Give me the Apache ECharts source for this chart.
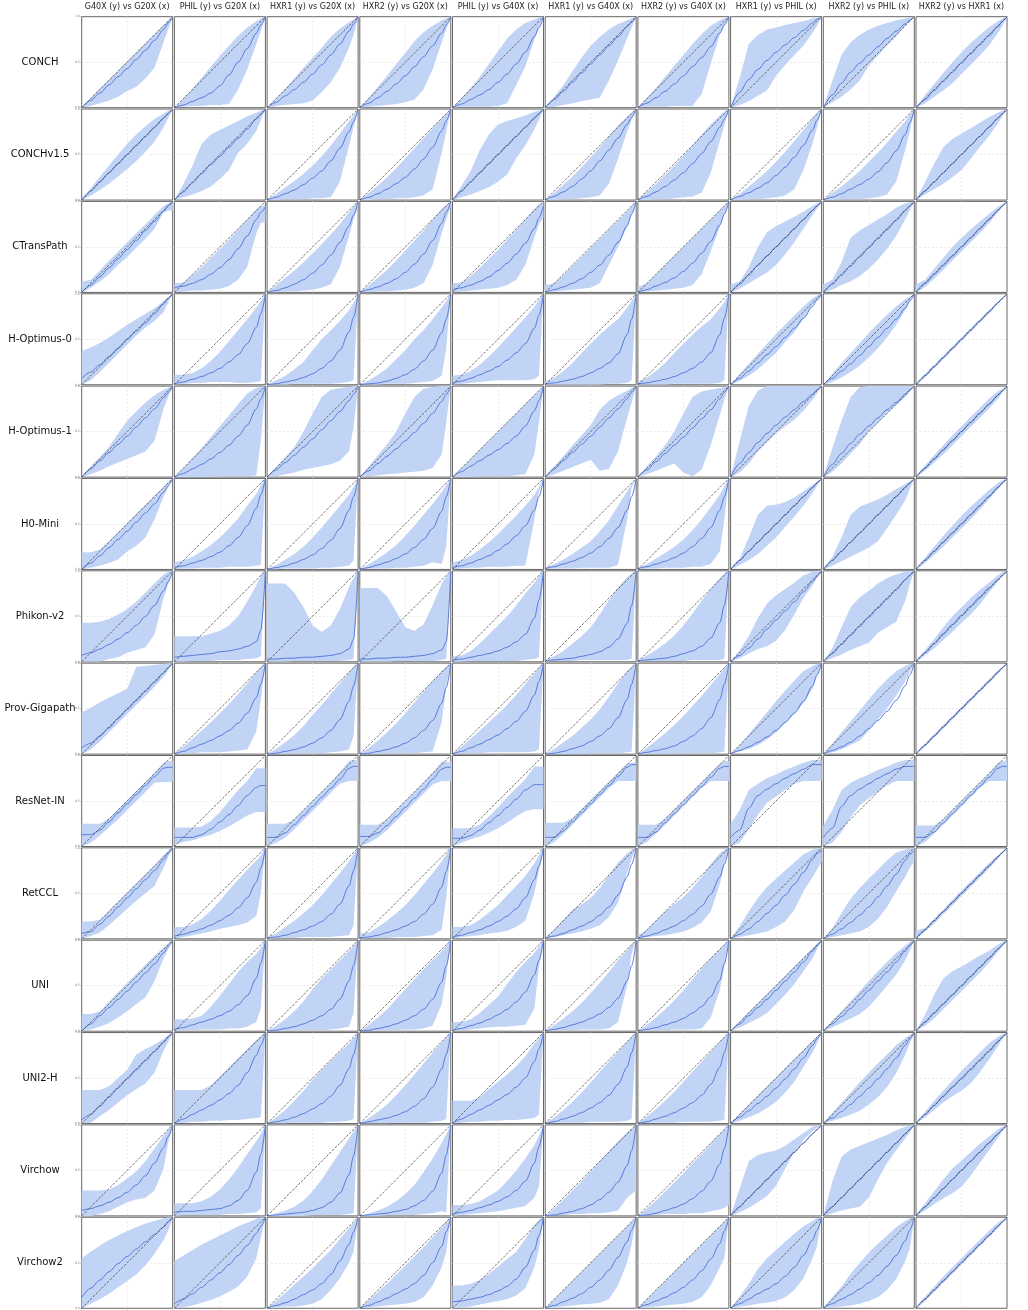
<!DOCTYPE html>
<html><head><meta charset="utf-8">
<script src="https://cdn.jsdelivr.net/npm/echarts@6/dist/echarts.min.js"></script>
<style>html,body{margin:0;padding:0;background:#fff}#c{width:1028px;height:1310px}</style>
</head><body><div id="c"></div>
<script>
const xs = [0,0.1,0.2,0.3,0.4,0.5,0.6,0.7,0.8,0.9,0.95,1];
const colTitles = ['G40X (y) vs G20X (x)','PHIL (y) vs G20X (x)','HXR1 (y) vs G20X (x)','HXR2 (y) vs G20X (x)','PHIL (y) vs G40X (x)','HXR1 (y) vs G40X (x)','HXR2 (y) vs G40X (x)','HXR1 (y) vs PHIL (x)','HXR2 (y) vs PHIL (x)','HXR2 (y) vs HXR1 (x)'];
const rowNames = ['CONCH','CONCHv1.5','CTransPath','H-Optimus-0','H-Optimus-1','H0-Mini','Phikon-v2','Prov-Gigapath','ResNet-IN','RetCCL','UNI','UNI2-H','Virchow','Virchow2'];
const yTicks = ['0.0','0.5','1.0'];

// values in percent at xs, one row per panel (10 columns)
const CONCH_med = [[0,8,16,25,34,43,53,63,74,86,93,100],[0,3,7,11,16,24,36,50,65,82,91,100],[0,6,13,20,28,37,47,58,70,84,92,100],[0,5,11,18,26,35,45,56,68,82,91,100],[0,4,9,14,20,28,37,48,61,78,88,100],[0,9,18,28,38,48,58,68,78,89,94,100],[0,5,11,18,26,35,45,55,67,82,91,100],[0,17,31,42,52,61,69,77,85,93,97,100],[0,14,27,39,49,58,67,76,84,92,96,100],[0,9,19,29,39,49,59,69,79,89,95,100]];
const CONCH_lo = [[0,2,5,8,12,18,23,32,44,72,86,100],[0,1,2,2,3,3,4,20,42,70,84,100],[0,2,3,4,5,8,17,28,44,66,80,100],[0,1,2,3,4,6,9,20,42,72,86,100],[0,1,1,1,1,2,5,25,45,75,88,100],[0,1,3,5,7,9,11,30,52,76,88,100],[0,1,1,1,2,2,2,15,48,80,90,100],[0,3,7,13,19,35,47,58,68,82,90,100],[0,6,12,20,30,46,57,68,78,90,95,100],[0,5,12,19,27,37,47,57,68,82,90,100]];
const CONCH_hi = [[0,11,21,31,41,51,61,71,81,91,96,100],[0,10,21,33,45,57,68,79,88,95,98,100],[0,10,21,32,44,55,66,78,87,94,97,100],[0,11,23,35,48,60,73,83,90,96,98,100],[0,11,22,34,48,62,76,86,93,97,99,100],[0,12,25,40,55,68,78,86,92,96,98,100],[0,11,22,34,46,58,70,81,90,96,98,100],[0,33,70,80,86,88,91,93,95,98,99,100],[0,30,58,72,80,86,90,93,96,98,99,100],[0,14,26,38,50,61,71,80,88,95,98,100]];

const CONCHv15_med = [[0,10,20,30,40,50,60,70,80,90,95,100],[0,9,19,29,39,48,58,68,78,89,94,100],[0,3,7,11,17,24,32,43,57,75,86,100],[0,3,7,12,18,25,34,45,58,76,87,100],[0,10,20,30,40,50,60,70,80,90,95,100],[0,4,9,15,23,32,43,55,68,83,91,100],[0,4,9,15,22,30,40,51,64,80,89,100],[0,4,8,13,19,27,36,47,60,77,88,100],[0,3,7,12,17,23,31,41,54,72,85,100],[0,10,20,30,40,50,60,70,80,90,95,100]];
const CONCHv15_lo = [[0,5,11,18,26,34,43,53,64,80,90,100],[0,3,6,10,15,23,33,52,62,76,88,100],[0,0,1,1,1,2,2,3,20,60,80,100],[0,0,1,1,2,2,3,5,12,52,75,100],[0,3,6,10,14,20,28,46,60,78,88,100],[0,0,1,1,2,3,5,18,45,75,88,100],[0,0,1,1,2,3,4,8,30,65,82,100],[0,0,1,1,2,3,5,12,33,62,80,100],[0,0,1,1,1,2,3,6,20,55,75,100],[0,6,12,18,25,33,45,58,70,84,92,100]];
const CONCHv15_hi = [[0,13,26,38,50,62,72,81,89,95,98,100],[0,18,38,62,72,77,82,87,92,96,98,100],[0,7,14,21,29,38,48,60,73,87,93,100],[0,8,16,25,35,46,57,68,79,90,95,100],[0,16,32,55,72,83,87,90,93,97,98,100],[0,8,17,26,36,47,58,70,82,92,96,100],[0,9,18,28,38,49,60,72,83,93,97,100],[0,7,15,23,32,42,53,65,77,90,95,100],[0,8,15,23,32,42,52,63,75,87,94,100],[0,20,40,58,67,73,79,85,91,96,98,100]];

const CTransPath_med = [[0,8,17,27,37,47,57,68,78,89,95,100],[5,7,10,14,20,27,36,48,62,80,88,94],[0,2,5,9,14,21,30,41,55,73,85,100],[0,3,6,10,15,22,31,42,57,76,88,100],[3,5,8,12,17,24,32,42,54,70,82,95],[0,3,6,10,15,22,30,41,55,73,86,100],[0,3,7,11,16,23,32,43,56,74,86,100],[0,9,19,30,40,50,60,70,80,90,95,100],[0,9,19,29,39,49,59,69,79,90,95,100],[0,10,20,30,40,50,60,70,80,90,95,100]];
const CTransPath_lo = [[0,5,12,20,30,39,49,59,70,88,90,90],[0,1,2,2,3,4,7,14,28,65,76,78],[0,0,1,1,2,3,5,9,28,62,80,95],[0,0,1,1,2,3,5,10,30,65,80,95],[0,1,2,3,4,5,8,14,30,60,75,82],[0,1,2,3,4,5,10,30,50,72,85,100],[0,1,2,3,4,5,8,20,45,72,85,100],[0,4,10,16,22,30,42,55,70,85,92,100],[0,3,8,12,18,26,36,48,62,80,90,100],[0,6,15,25,35,45,55,65,76,88,94,100]];
const CTransPath_hi = [[12,14,24,35,45,55,65,75,85,95,98,100],[10,11,19,28,38,48,58,69,80,91,95,95],[0,8,16,24,33,43,53,64,75,88,94,100],[0,8,16,25,35,46,57,68,80,92,96,100],[10,11,18,27,37,47,58,69,80,92,97,99],[8,10,19,29,39,49,59,69,79,89,95,100],[6,10,20,30,40,50,60,70,80,90,95,100],[9,12,28,50,66,73,78,83,89,95,98,100],[9,14,33,60,68,74,80,86,93,98,99,100],[9,14,26,38,50,60,69,78,86,94,97,100]];

const HOpt0_med = [[7,14,22,31,40,50,59,68,78,89,95,100],[1,3,6,9,13,18,25,33,45,63,78,100],[0,1,3,5,8,12,18,26,38,58,74,100],[0,1,2,4,7,11,17,26,38,57,72,100],[2,4,7,11,15,20,27,35,45,62,76,100],[1,2,4,6,9,13,18,24,34,55,72,100],[1,2,4,6,9,13,18,25,35,55,73,100],[0,7,15,24,33,42,52,62,73,86,93,100],[0,7,15,23,32,42,52,62,72,84,92,100],[0,10,20,30,40,50,60,70,80,90,95,100]];
const HOpt0_lo = [[0,5,14,24,34,44,54,63,70,80,90,100],[0,1,2,2,3,3,3,2,2,3,4,100],[0,0,0,1,1,1,1,1,2,3,5,100],[0,0,0,1,1,1,2,3,4,10,40,100],[0,1,2,3,4,5,5,5,5,6,10,100],[0,0,0,0,0,0,0,1,1,2,5,100],[0,0,0,0,1,1,1,1,1,2,5,100],[0,4,10,17,26,35,47,58,72,87,93,100],[0,3,8,14,21,30,40,52,66,82,91,100],[0,8,18,28,38,48,58,68,78,89,94,100]];
const HOpt0_hi = [[37,41,46,52,59,66,72,78,84,92,96,100],[11,11,13,18,26,36,48,60,72,85,92,100],[0,5,10,17,25,38,50,60,70,82,90,100],[0,5,11,18,28,38,50,60,72,85,92,100],[10,11,15,22,31,41,52,63,74,86,93,100],[3,8,15,24,35,45,55,64,72,85,92,100],[3,8,15,24,35,45,55,64,72,84,91,100],[0,12,23,34,45,56,66,76,86,95,98,100],[0,12,24,35,46,57,67,77,86,94,97,100],[0,12,22,32,42,52,62,72,82,91,96,100]];

const HOpt1_med = [[0,9,18,27,36,45,55,65,75,87,93,100],[0,4,9,14,20,27,35,45,57,75,86,100],[0,8,16,24,33,42,52,62,72,84,91,100],[0,7,15,23,31,40,49,59,70,83,91,100],[0,6,12,18,24,30,37,45,56,73,84,100],[0,9,18,27,36,45,55,65,75,86,93,100],[0,8,17,26,35,44,54,64,74,86,93,100],[0,15,27,38,48,57,66,74,83,91,96,100],[0,14,26,37,47,56,65,74,82,91,96,100],[0,10,20,30,40,50,60,70,80,90,95,100]];
const HOpt1_lo = [[0,3,7,12,16,20,24,28,40,75,88,100],[0,0,0,0,0,1,1,1,1,2,40,100],[0,1,3,5,8,10,12,14,18,28,55,100],[0,1,2,3,4,5,6,7,10,25,60,100],[0,0,0,1,1,1,1,2,3,25,60,100],[0,3,7,11,15,19,7,9,28,65,82,100],[0,3,7,11,15,5,1,8,35,68,85,100],[0,5,15,28,38,48,56,63,73,85,92,100],[0,6,15,26,36,50,60,70,79,88,94,100],[0,7,16,25,35,45,55,65,75,86,93,100]];
const HOpt1_hi = [[0,12,22,33,48,62,72,82,90,96,98,100],[0,10,21,32,44,56,68,80,92,98,99,100],[0,11,22,33,50,70,88,96,98,99,100,100],[0,12,24,36,50,70,88,97,99,100,100,100],[0,10,20,30,40,50,60,70,80,90,95,100],[0,12,23,35,46,57,74,84,90,95,98,100],[0,12,23,35,50,70,88,94,96,98,99,100],[0,40,78,95,100,100,100,100,100,100,100,100],[0,32,62,88,99,100,100,100,100,100,100,100],[0,13,24,35,46,56,66,76,86,94,97,100]];

const H0Mini_med = [[0,7,15,24,33,42,52,62,72,85,92,100],[2,4,7,10,14,19,26,35,48,67,82,100],[0,2,4,7,11,16,23,32,45,65,80,100],[0,2,5,8,12,17,24,33,45,64,80,100],[2,4,7,11,15,21,28,37,48,65,80,100],[1,3,6,9,13,18,25,34,46,65,80,100],[1,3,6,9,13,18,25,34,46,65,80,100],[0,10,20,30,40,50,60,70,80,90,95,100],[0,10,20,30,40,50,60,70,80,90,95,100],[0,10,20,30,40,50,60,70,80,90,95,100]];
const H0Mini_lo = [[0,2,4,7,11,20,26,35,55,80,90,100],[0,1,1,2,2,2,3,3,3,4,5,100],[0,0,1,1,1,1,2,2,3,4,10,100],[0,1,1,1,2,2,3,4,8,6,25,100],[0,1,2,2,3,3,3,4,4,55,85,100],[0,1,1,1,2,2,2,2,5,55,90,100],[0,1,1,2,2,2,3,3,6,20,55,100],[0,5,10,17,26,35,47,58,70,84,92,100],[0,4,9,14,19,24,31,45,60,76,88,100],[0,7,16,25,35,45,55,66,77,88,94,100]];
const H0Mini_hi = [[19,19,22,31,41,51,61,71,81,91,96,100],[8,10,14,20,27,35,45,56,70,83,93,100],[0,5,11,17,25,35,46,58,70,82,91,100],[0,6,12,19,27,37,48,60,72,85,93,100],[8,10,15,22,30,39,49,59,70,82,91,100],[1,6,11,17,24,31,42,54,70,86,94,100],[1,6,12,18,25,33,43,55,68,82,92,100],[0,12,35,60,70,71,74,79,86,93,97,100],[0,14,35,60,69,73,77,82,88,94,97,100],[0,13,25,37,48,59,69,78,87,95,98,100]];

const Phikon_med = [[7,10,14,19,25,32,40,50,62,78,88,100],[5,6,7,8,9,11,12,14,17,22,35,100],[3,3,4,4,5,5,6,7,9,14,25,100],[3,3,4,4,5,5,6,7,9,13,22,100],[2,3,5,7,9,12,16,22,30,48,68,100],[1,2,3,4,6,8,11,16,25,42,62,100],[1,2,3,4,6,9,12,17,26,43,62,100],[0,7,15,25,36,46,56,66,77,88,94,100],[0,9,19,29,39,49,59,69,79,90,95,100],[0,10,20,31,41,51,61,71,81,90,95,100]];
const Phikon_lo = [[0,0,0,3,5,10,13,16,30,70,85,100],[0,0,1,1,1,2,2,2,3,4,6,100],[0,0,0,1,1,1,1,1,1,2,3,100],[0,0,0,0,1,1,1,1,1,2,3,100],[0,0,1,1,1,1,1,1,2,3,5,100],[0,1,1,1,2,2,2,2,2,2,3,100],[0,1,1,1,1,1,2,2,2,2,3,100],[0,4,9,14,17,23,35,52,70,84,92,100],[0,4,8,13,17,21,32,38,44,67,85,100],[0,7,15,24,33,43,52,63,76,88,94,100]];
const Phikon_hi = [[43,43,44,47,52,58,66,76,86,96,99,100],[28,28,28,28,31,34,40,50,66,84,95,100],[86,86,86,76,60,40,33,40,58,82,92,100],[81,81,81,72,55,38,34,41,62,86,94,100],[6,7,12,20,30,40,50,62,75,87,94,100],[2,6,12,20,28,38,52,68,82,93,97,100],[2,7,13,20,29,40,53,67,80,92,97,100],[0,13,28,48,64,73,80,87,95,99,100,100],[0,15,38,60,71,78,86,92,96,99,100,100],[0,13,25,38,50,60,70,79,87,95,98,100]];

const ProvGiga_med = [[7,12,20,29,39,49,59,69,79,89,95,100],[0,3,7,11,15,20,26,34,45,62,77,100],[0,1,3,5,8,12,18,26,38,58,75,100],[0,1,3,5,8,12,18,26,37,56,73,100],[0,3,7,11,16,21,28,36,47,65,80,100],[0,1,3,6,9,14,20,28,40,60,77,100],[0,2,4,6,9,14,20,28,40,60,77,100],[0,4,8,13,19,26,35,45,58,75,87,100],[0,4,8,13,20,28,37,47,59,75,87,100],[0,10,20,30,40,50,60,70,80,90,95,100]];
const ProvGiga_lo = [[0,5,14,24,34,44,54,64,74,85,92,100],[0,1,1,2,2,2,3,4,5,25,60,100],[0,0,0,1,1,1,1,2,3,5,20,100],[0,0,0,1,1,1,1,2,3,35,75,100],[0,1,1,1,2,2,2,2,2,3,5,100],[0,0,0,0,0,1,1,1,1,2,3,100],[0,0,0,0,0,1,1,1,1,2,3,100],[0,3,6,10,16,24,34,44,56,72,86,100],[0,2,5,10,15,26,38,50,64,80,90,100],[0,8,18,28,38,48,58,68,78,88,94,100]];
const ProvGiga_hi = [[46,51,57,62,67,72,96,97,98,99,100,100],[0,8,17,26,35,45,55,66,78,90,96,100],[0,6,13,21,31,43,54,66,78,90,96,100],[0,7,15,24,34,45,57,69,80,91,96,100],[0,8,17,26,35,44,54,65,77,89,95,100],[0,6,13,20,29,38,49,63,78,91,96,100],[0,7,15,23,32,42,53,64,76,88,95,100],[0,10,22,34,46,58,70,81,91,97,99,100],[0,12,24,36,48,60,72,82,91,97,99,100],[0,12,22,32,42,52,62,72,82,92,96,100]];

const ResNet_med = [[13,13,18,27,37,47,57,67,77,86,87,87],[10,10,10,13,19,27,35,45,56,65,67,67],[10,10,15,24,34,44,54,64,74,86,88,88],[11,11,15,23,33,43,53,63,74,85,87,87],[9,9,12,18,26,34,43,52,62,68,68,68],[10,10,17,27,37,47,57,67,77,87,90,90],[10,10,16,26,36,46,56,66,76,86,88,88],[10,18,42,56,63,69,75,80,85,90,90,90],[10,20,44,56,63,69,75,80,85,88,88,88],[10,10,16,26,36,46,56,66,76,86,88,88]];
const ResNet_lo = [[0,4,12,21,30,40,50,60,70,71,71,71],[2,5,7,10,13,17,22,28,34,38,38,38],[0,4,10,19,29,39,49,59,69,72,72,72],[0,4,10,18,28,38,48,58,68,72,72,72],[0,4,8,11,15,20,26,33,39,41,41,41],[0,5,14,24,34,44,54,64,72,72,72,72],[0,5,14,24,34,44,54,64,72,72,72,72],[0,4,19,35,48,55,62,69,72,72,72,72],[0,4,16,32,45,53,60,67,72,72,72,72],[0,5,14,24,34,44,54,64,72,72,72,72]];
const ResNet_hi = [[25,25,25,31,41,51,61,71,81,92,94,94],[21,21,21,22,28,38,50,62,72,86,86,86],[25,25,25,30,40,50,60,70,82,94,95,95],[24,24,24,30,40,50,60,70,81,93,93,93],[20,20,20,24,33,43,54,64,74,88,88,88],[26,26,26,31,41,51,61,71,81,91,92,92],[24,24,24,31,41,51,61,71,81,91,94,94],[25,40,62,69,75,79,84,88,92,95,95,95],[23,40,62,70,75,79,84,88,92,95,95,95],[23,23,23,30,40,50,60,70,80,92,94,94]];

const RetCCL_med = [[6,8,16,25,35,45,55,65,75,87,94,100],[3,5,8,11,15,20,26,34,45,62,78,100],[1,2,4,7,10,14,19,27,38,58,75,100],[1,2,4,7,10,14,19,27,38,57,74,100],[2,4,7,10,14,19,25,33,45,65,80,100],[1,3,6,10,14,19,26,35,48,68,82,100],[1,3,6,10,14,20,27,36,49,68,82,100],[0,5,11,19,28,37,48,60,73,87,94,97],[0,5,11,18,26,35,46,58,71,86,93,97],[0,10,20,30,40,50,60,70,80,90,95,100]];
const RetCCL_lo = [[0,3,7,15,24,33,42,50,58,78,90,100],[0,2,4,6,8,11,13,15,18,25,50,100],[0,1,1,1,2,2,2,2,3,4,15,100],[0,1,1,1,2,2,2,3,4,10,45,100],[0,2,3,4,6,7,9,13,20,50,75,100],[0,2,4,6,8,11,15,24,40,72,88,100],[0,2,3,4,6,8,12,18,30,60,82,100],[0,2,4,6,8,13,19,32,52,68,76,85],[0,2,4,6,8,13,22,35,52,68,78,85],[0,8,17,27,37,47,57,67,77,88,94,100]];
const RetCCL_hi = [[19,19,21,31,41,51,61,71,81,92,97,100],[13,13,16,22,31,42,54,65,76,86,92,100],[2,6,13,20,28,37,48,60,72,85,93,100],[6,7,13,20,28,37,48,60,72,85,93,100],[13,13,15,21,29,37,48,58,69,83,92,100],[1,10,21,32,38,45,56,70,84,94,98,100],[4,10,20,30,38,46,56,68,82,94,98,100],[0,14,30,45,57,66,75,84,93,98,99,100],[0,12,28,44,56,66,76,86,95,98,99,100],[9,12,22,32,43,53,63,73,83,92,96,100]];

const UNI_med = [[0,8,17,26,35,44,54,64,74,86,93,100],[2,4,7,10,13,17,22,29,39,58,75,100],[0,1,3,5,8,12,17,24,35,55,72,100],[0,1,3,5,8,12,17,24,35,54,72,100],[1,3,6,9,13,18,24,32,43,62,78,100],[0,2,4,7,10,14,19,26,36,55,72,100],[0,2,4,7,10,14,20,27,38,56,74,100],[0,8,17,26,35,45,55,65,76,88,94,100],[0,8,16,25,35,45,55,65,76,88,94,100],[0,10,20,30,40,50,60,70,80,90,95,100]];
const UNI_lo = [[0,2,5,9,15,22,30,37,55,80,90,100],[0,1,1,2,2,2,3,3,5,10,25,100],[0,0,0,1,1,1,1,2,3,5,20,100],[0,0,1,1,1,2,2,3,6,30,60,100],[0,1,2,3,4,5,5,6,7,25,70,100],[0,1,1,1,2,2,2,3,10,50,85,100],[0,1,1,1,2,2,2,3,15,45,72,100],[0,4,9,14,20,30,40,52,66,80,90,100],[0,4,9,14,19,27,38,50,62,78,88,100],[0,6,14,24,34,44,54,64,75,87,93,100]];
const UNI_hi = [[19,19,22,32,43,53,63,73,83,92,96,100],[13,13,14,17,27,39,52,65,76,85,92,100],[0,6,13,22,33,46,58,68,78,88,94,100],[0,7,15,24,35,46,57,68,78,88,94,100],[10,10,13,20,29,38,52,65,76,86,93,100],[0,7,14,22,31,42,53,65,78,89,95,100],[0,7,15,24,34,45,57,69,80,90,95,100],[0,11,21,31,41,51,61,71,81,91,96,100],[0,12,22,33,44,55,66,76,86,94,98,100],[0,18,40,58,66,71,77,83,88,95,98,100]];

const UNI2H_med = [[4,10,19,29,39,49,59,69,79,89,95,100],[0,5,10,15,20,26,33,42,56,75,86,100],[0,2,4,7,11,16,22,30,42,60,76,100],[0,2,4,6,9,13,19,27,40,60,76,100],[0,5,10,15,20,26,32,40,50,68,82,100],[0,2,5,8,12,17,23,31,43,62,78,100],[0,2,5,8,12,17,23,31,43,62,78,100],[0,7,14,22,30,39,49,60,72,86,93,100],[0,6,13,21,30,39,49,60,72,86,93,100],[0,10,20,30,40,49,59,69,79,90,95,100]];
const UNI2H_lo = [[0,1,8,15,23,31,38,44,56,80,90,100],[0,1,2,2,3,3,4,4,5,6,7,100],[0,0,0,1,1,1,1,2,2,3,5,100],[0,0,0,0,1,1,1,1,2,3,5,100],[0,1,2,2,3,3,4,4,5,6,10,100],[0,1,1,1,1,2,2,2,2,3,5,100],[0,1,1,1,1,2,2,2,2,3,4,100],[0,3,7,11,17,24,34,46,62,78,88,100],[0,3,6,10,14,21,29,40,55,76,88,100],[0,7,15,23,30,36,44,56,70,85,93,100]];
const UNI2H_hi = [[37,37,37,41,50,59,76,82,87,93,97,100],[37,37,37,37,42,52,62,72,82,92,96,100],[0,7,15,25,36,48,59,69,79,88,94,100],[0,6,13,21,31,42,54,66,78,89,95,100],[25,25,25,29,38,46,54,63,74,88,94,100],[0,7,15,24,34,45,57,68,79,90,95,100],[0,8,16,25,35,46,57,68,79,90,95,100],[0,11,21,31,41,51,61,71,81,91,96,100],[0,12,23,34,45,56,66,76,86,94,97,100],[0,13,25,36,47,58,68,78,88,95,98,100]];

const Virchow_med = [[6,8,11,15,20,26,34,44,58,75,87,100],[4,5,5,6,7,8,11,17,28,48,68,100],[0,1,2,3,4,6,9,15,25,45,66,100],[0,1,2,3,5,7,11,17,27,47,67,100],[2,4,6,9,12,16,21,28,38,58,76,100],[0,1,3,5,8,12,18,26,37,55,72,100],[0,1,3,6,9,13,19,27,38,57,74,100],[0,10,20,30,40,50,60,70,80,90,95,100],[0,10,20,30,40,50,60,70,80,90,95,100],[0,10,20,30,40,50,60,70,80,90,95,100]];
const Virchow_lo = [[0,0,2,5,10,15,18,20,28,52,80,100],[0,1,1,1,1,1,2,2,3,4,8,100],[0,0,0,0,0,1,1,1,1,2,3,100],[0,0,0,1,1,1,1,2,3,5,4,100],[0,1,2,3,4,5,7,9,11,20,32,100],[0,1,1,2,2,3,3,4,6,20,24,28],[0,1,1,2,2,2,3,3,5,7,9,12],[0,4,9,15,22,33,52,70,83,93,97,100],[0,3,6,8,10,20,40,58,72,85,92,100],[0,6,13,19,25,32,44,58,72,86,93,100]];
const Virchow_hi = [[28,28,28,29,34,41,49,60,74,88,95,100],[14,14,14,16,21,29,40,53,68,82,90,100],[0,3,6,10,17,27,40,55,70,85,93,100],[0,3,6,10,16,24,34,48,63,80,90,100],[12,12,13,16,22,28,38,50,63,78,88,100],[0,8,18,28,38,49,60,71,82,92,96,100],[0,8,17,27,37,47,58,68,79,90,95,100],[0,30,60,67,70,72,77,84,91,98,99,100],[0,38,65,73,77,81,85,89,94,98,99,100],[0,14,27,40,52,61,70,79,87,95,98,100]];

const Virchow2_med = [[12,22,31,40,49,57,65,73,81,89,95,100],[5,10,16,23,31,39,48,58,69,82,90,100],[0,3,6,10,15,20,27,37,52,70,84,100],[0,3,7,11,16,21,27,36,50,68,84,100],[7,8,10,12,15,19,24,32,45,64,80,100],[0,3,7,11,16,23,31,42,56,73,86,100],[0,4,8,12,17,23,31,41,54,71,85,100],[0,5,10,16,21,27,35,45,58,75,86,100],[0,5,10,15,21,28,36,46,58,74,86,100],[0,10,20,30,40,50,60,70,80,90,95,100]];
const Virchow2_lo = [[0,5,10,16,23,30,37,47,60,75,85,100],[0,1,3,6,9,13,18,24,35,55,78,100],[0,1,2,2,3,5,10,20,33,50,62,100],[0,1,2,3,4,5,7,12,25,45,62,100],[0,1,2,4,6,8,10,14,22,45,65,100],[0,1,2,3,4,5,6,10,25,50,70,100],[0,1,2,3,4,5,7,12,25,45,55,100],[0,2,3,5,6,8,12,20,33,55,68,100],[0,1,2,3,5,8,12,20,32,52,65,100],[0,8,18,28,38,48,58,68,78,88,94,100]];
const Virchow2_hi = [[55,62,69,75,80,85,89,93,96,99,100,100],[52,58,64,70,75,80,85,90,94,98,100,100],[0,8,17,26,35,44,54,64,76,88,94,100],[0,9,18,27,37,47,57,67,78,89,95,100],[25,25,27,31,38,46,54,62,76,92,97,100],[0,10,20,30,40,50,60,70,80,90,95,100],[0,10,20,30,40,50,60,70,80,90,95,100],[0,13,27,43,55,64,73,82,90,96,99,100],[0,12,24,38,50,61,71,80,89,96,99,100],[0,13,24,35,45,55,65,75,85,94,97,100]];

const MED = [CONCH_med,CONCHv15_med,CTransPath_med,HOpt0_med,HOpt1_med,H0Mini_med,Phikon_med,ProvGiga_med,ResNet_med,RetCCL_med,UNI_med,UNI2H_med,Virchow_med,Virchow2_med];
const LO  = [CONCH_lo,CONCHv15_lo,CTransPath_lo,HOpt0_lo,HOpt1_lo,H0Mini_lo,Phikon_lo,ProvGiga_lo,ResNet_lo,RetCCL_lo,UNI_lo,UNI2H_lo,Virchow_lo,Virchow2_lo];
const HI  = [CONCH_hi,CONCHv15_hi,CTransPath_hi,HOpt0_hi,HOpt1_hi,H0Mini_hi,Phikon_hi,ProvGiga_hi,ResNet_hi,RetCCL_hi,UNI_hi,UNI2H_hi,Virchow_hi,Virchow2_hi];

const chart = echarts.init(document.getElementById('c'), null, {renderer:'canvas'});
const L0 = 81.7, T0 = 16.7, DX = 92.7, DY = 92.35, W = 91, H = 91;
const FONT = 'DejaVu Sans';
const grids = [], xAxes = [], yAxes = [], series = [], graphics = [];
const split = {show:true, showMinLine:false, showMaxLine:false, lineStyle:{color:'#e2e2e2', type:[2,2], width:0.7}};

rowNames.forEach((rn, r) => {
  graphics.push({type:'text', x:40, y:T0 + r*DY + H/2, silent:true,
    style:{text:rn, fontSize:10, fontFamily:FONT, fill:'#111', align:'center', verticalAlign:'middle'}});
  colTitles.forEach((ct, c) => {
    const i = r*10 + c;
    grids.push({left:L0 + c*DX, top:T0 + r*DY, width:W, height:H, show:true,
      borderColor:'#666', borderWidth:1, backgroundColor:'#fff'});
    xAxes.push({type:'value', gridIndex:i, min:0, max:1, interval:0.5,
      axisLine:{show:false}, axisTick:{show:c===0, length:1.5, lineStyle:{color:'#999', width:0.6}},
      axisLabel:{show:false}, splitLine:split});
    yAxes.push({type:'value', gridIndex:i, min:0, max:1, interval:0.5,
      axisLine:{show:false}, axisTick:{show:c===0, length:1.5, lineStyle:{color:'#999', width:0.6}},
      axisLabel:{show:c===0, fontSize:3, color:'#777', margin:2, fontFamily:FONT,
        formatter:(v) => yTicks[Math.round(v*2)]},
      splitLine:split});
    const lo = LO[r][c].map(v => v/100);
    const hi = HI[r][c].map((v,k) => Math.max(v, LO[r][c][k])/100);
    const med = MED[r][c].map(v => v/100);
    series.push({type:'custom', xAxisIndex:i, yAxisIndex:i, silent:true, z:1, clip:true,
      data:[[0,0]],
      renderItem:(params, api) => {
        const pts = [];
        for (let k = 0; k < xs.length; k++) pts.push(api.coord([xs[k], hi[k]]));
        for (let k = xs.length - 1; k >= 0; k--) pts.push(api.coord([xs[k], lo[k]]));
        return {type:'polygon', shape:{points:pts}, style:{fill:'#c2d4f5', stroke:null}};
      }});
    series.push({type:'line', xAxisIndex:i, yAxisIndex:i, silent:true, z:3, animation:false,
      data: xs.map((x,k) => [x, med[k]]), symbol:'none', smooth:0.3, smoothMonotone:'x',
      lineStyle:{color:'#4a6fd6', width:0.9}});
    series.push({type:'line', xAxisIndex:i, yAxisIndex:i, silent:true, z:4, animation:false,
      data:[[0,0],[1,1]], symbol:'none',
      lineStyle:{color:'#333', width:0.7, type:[2.5,1.5]}});
  });
});
colTitles.forEach((ct, c) => {
  graphics.push({type:'text', x:L0 + c*DX + W/2, y:7, silent:true,
    style:{text:ct, fontSize:8, fontFamily:FONT, fill:'#222', align:'center', verticalAlign:'middle'}});
});

chart.setOption({
  animation:false,
  backgroundColor:'#fff',
  grid:grids, xAxis:xAxes, yAxis:yAxes, series:series, graphic:graphics
});
</script></body></html>
